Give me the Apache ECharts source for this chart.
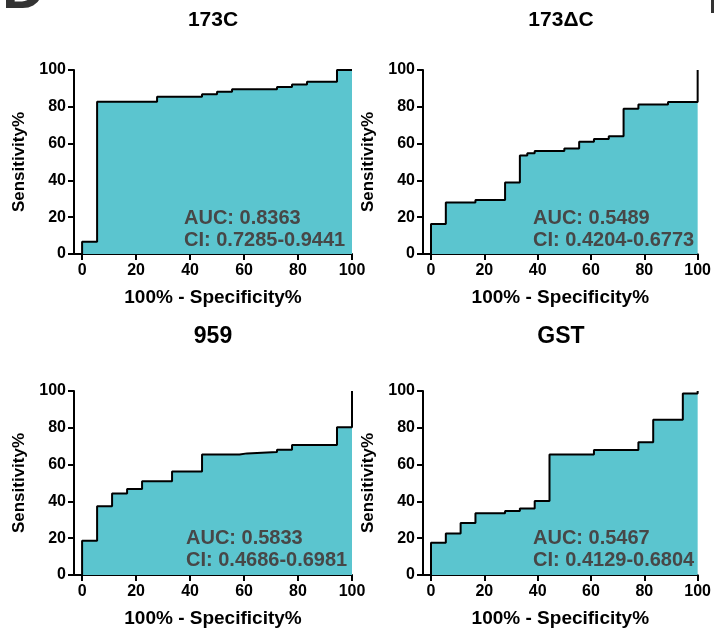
<!DOCTYPE html>
<html>
<head>
<meta charset="utf-8">
<script src="https://cdn.jsdelivr.net/npm/echarts@6/dist/echarts.min.js"></script>
<style>
  html, body { margin: 0; padding: 0; background: #fff; }
  #grafico { width: 714px; height: 632px; }
</style>
</head>
<body>
<div id="grafico"></div>
<script>
// Datos de las curvas ROC (esquinas de cada escalon)
const titles = ['173C', '173\u0394C', '959', 'GST'];
const aucLabels = ['AUC: 0.8363', 'AUC: 0.5489', 'AUC: 0.5833', 'AUC: 0.5467'];
const ciLabels = ['CI: 0.7285-0.9441', 'CI: 0.4204-0.6773', 'CI: 0.4686-0.6981', 'CI: 0.4129-0.6804'];
const xTicks = [0, 20, 40, 60, 80, 100];

const fpr173C = [0, 0, 5.56, 27.78, 44.44, 50, 55.56, 72.22, 77.78, 83.33, 94.44, 100];
const tpr173C = [0, 6.7, 82.8, 85.5, 86.8, 88.2, 89.5, 90.8, 92.1, 93.6, 100, 100];

const fpr173dC = [0, 0, 5.56, 16.67, 27.78, 33.33, 36.11, 38.89, 50, 55.56, 61.11, 66.67, 72.22, 77.78, 88.89, 100];
const tpr173dC = [0, 16.3, 28, 29.3, 38.8, 53.5, 54.8, 56, 57.3, 61, 62.5, 64, 79, 81.3, 82.6, 100];

const fpr959 = [0, 0, 5.56, 11.11, 16.67, 22.22, 33.33, 44.44, 58.33, 61.11, 72.22, 77.78, 94.44, 100];
const tpr959 = [0, 18.6, 37.4, 44.3, 46.7, 50.9, 56.2, 65.5, 66.1, 66.8, 68.1, 70.7, 80.3, 100];

const fprGST = [0, 0, 5.56, 11.11, 16.67, 27.78, 33.33, 38.89, 44.44, 61.11, 77.78, 83.33, 94.44, 100];
const tprGST = [0, 17.5, 22.6, 28.2, 33.5, 34.8, 36.1, 40.2, 65.5, 68, 72.2, 84.4, 98.6, 100];

const curves = [
  [fpr173C, tpr173C],
  [fpr173dC, tpr173dC],
  [fpr959, tpr959],
  [fprGST, tprGST]
];

const FONT = '"Liberation Sans", Arial, Helvetica, sans-serif';

document.addEventListener('DOMContentLoaded', function () {
  const chart = echarts.init(document.getElementById('grafico'));

  // posicion de cada panel
  const grids = [
    { left: 74, top: 70, width: 278, height: 184 },
    { left: 423, top: 70, width: 277, height: 184 },
    { left: 74, top: 391, width: 278, height: 184 },
    { left: 423, top: 391, width: 277, height: 184 }
  ];

  const axisLine = { show: true, onZero: false, lineStyle: { color: '#000', width: 2 } };
  const labelStyle = { color: '#000', fontWeight: 'bold', fontSize: 16, fontFamily: FONT };

  const xAxes = grids.map(function (g, i) {
    return {
      gridIndex: i,
      type: 'value',
      min: -3,
      max: 100,
      axisLine: axisLine,
      axisTick: { show: true, length: 6, customValues: xTicks, lineStyle: { color: '#000', width: 2 } },
      axisLabel: Object.assign({ margin: 9, customValues: xTicks }, labelStyle),
      splitLine: { show: false },
      name: '100% - Specificity%',
      nameLocation: 'middle',
      nameGap: 34,
      nameTextStyle: { color: '#000', fontWeight: 'bold', fontSize: 19, fontFamily: FONT }
    };
  });

  const yAxes = grids.map(function (g, i) {
    return {
      gridIndex: i,
      type: 'value',
      min: 0,
      max: 100,
      interval: 20,
      axisLine: axisLine,
      axisTick: { show: true, length: 6, lineStyle: { color: '#000', width: 2 } },
      axisLabel: Object.assign({ margin: 8 }, labelStyle),
      splitLine: { show: false },
      name: 'Sensitivity%',
      nameLocation: 'middle',
      nameGap: 46,
      nameTextStyle: { color: '#000', fontWeight: 'bold', fontSize: 17, fontFamily: FONT }
    };
  });

  const series = curves.map(function (c, i) {
    return {
      type: 'line',
      xAxisIndex: i,
      yAxisIndex: i,
      step: 'end',
      showSymbol: false,
      clip: false,
      data: c[0].map(function (x, k) { return [x, c[1][k]]; }),
      lineStyle: { color: '#000', width: 2 },
      areaStyle: { color: '#5bc5cf', opacity: 1 }
    };
  });

  // textos: titulos y AUC
  const titlePos = [[213, 20], [561, 20], [213, 337], [561, 337]];
  const titleSize = [21, 21, 23, 23];
  const aucPos = [[184, 207], [533, 207], [186, 527], [533, 527]];

  const graphics = [];
  titles.forEach(function (t, i) {
    graphics.push({
      type: 'text', x: titlePos[i][0], y: titlePos[i][1], z: 100,
      style: { text: t, align: 'center', verticalAlign: 'middle', fill: '#000',
        font: 'bold ' + titleSize[i] + 'px ' + FONT }
    });
    graphics.push({
      type: 'text', x: aucPos[i][0], y: aucPos[i][1], z: 100,
      style: { text: aucLabels[i] + '\n' + ciLabels[i], align: 'left', verticalAlign: 'top',
        lineHeight: 22, fill: '#474747', font: 'bold 20px ' + FONT }
    });
  });
  // letra del panel (cortada) y marca en la esquina
  graphics.push({
    type: 'text', x: 2, y: -9, z: 100,
    style: { text: 'D', align: 'left', verticalAlign: 'middle', fill: '#333', font: 'bold 60px ' + FONT }
  });
  graphics.push({
    type: 'rect', z: 100, shape: { x: 711, y: 0, width: 3, height: 13 }, style: { fill: '#333' }
  });

  chart.setOption({
    animation: false,
    grid: grids,
    xAxis: xAxes,
    yAxis: yAxes,
    series: series,
    graphic: graphics
  });
});
</script>
</body>
</html>
